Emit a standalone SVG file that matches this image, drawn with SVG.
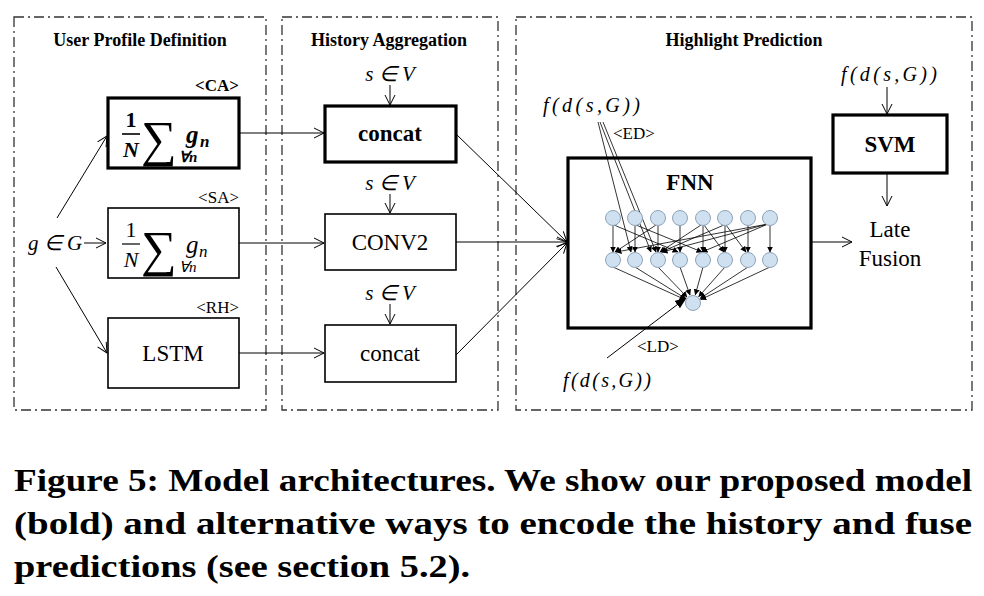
<svg xmlns="http://www.w3.org/2000/svg" width="984" height="596" viewBox="0 0 984 596">
<defs>
<marker id="open" markerWidth="12" markerHeight="12" refX="11" refY="6" orient="auto" markerUnits="userSpaceOnUse">
<path d="M1,1 L11,6 L1,11" fill="none" stroke="#000" stroke-width="1"/>
</marker>
<marker id="tri" markerWidth="6" markerHeight="6" refX="5.5" refY="3" orient="auto" markerUnits="userSpaceOnUse">
<path d="M0,0 L6,3 L0,6 Z" fill="#000"/>
</marker>
<marker id="tri2" markerWidth="12" markerHeight="10" refX="11" refY="5" orient="auto" markerUnits="userSpaceOnUse">
<path d="M0,0.5 L12,5 L0,9.5 Z" fill="#000"/>
</marker>
</defs>
<style>
.panel{fill:none;stroke:#333;stroke-width:1.3;stroke-dasharray:10 4 2 4}
.box{fill:#fff;stroke:#000;stroke-width:1.6}
.bold{fill:#fff;stroke:#000;stroke-width:3.2}
.cn{stroke:#000;stroke-width:1;fill:none}
.ca{marker-end:url(#open)}
.nn{stroke:#000;stroke-width:0.8;fill:none;marker-end:url(#tri)}
.node{fill:#cfe0f1;stroke:#8ea3b8;stroke-width:1}
</style>

<g id="panels">
<rect class="panel" x="14" y="17" width="252" height="393"/>
<rect class="panel" x="282" y="17" width="216" height="393"/>
<rect class="panel" x="516" y="17" width="456" height="393"/>
<g font-family="Liberation Serif, serif" font-weight="bold" font-size="18" text-anchor="middle">
<text x="140" y="46">User Profile Definition</text>
<text x="389" y="46">History Aggregation</text>
<text x="744" y="46">Highlight Prediction</text>
</g>
</g>

<g id="input">
<text font-family="Liberation Serif, serif" font-style="italic" font-size="21" x="28" y="250">g ∈ G</text>
</g>

<g id="CA" font-family="Liberation Serif, serif">
<rect class="bold" x="108" y="98" width="131" height="70"/>
<text x="239" y="91" font-size="17" font-weight="bold" text-anchor="end">&lt;CA&gt;</text>
<text x="131" y="127" font-weight="bold" font-size="22" text-anchor="middle">1</text>
<line x1="122" y1="134" x2="140" y2="134" stroke="#000" stroke-width="1.6"/>
<text x="131" y="157" font-weight="bold" font-style="italic" font-size="22" text-anchor="middle">N</text>
<text x="141" y="156" font-size="50">∑</text>
<text x="179" y="162" font-weight="bold" font-style="italic" font-size="15">∀n</text>
<text x="186" y="143" font-weight="bold" font-style="italic" font-size="25">g</text>
<text x="200" y="147" font-weight="bold" font-style="italic" font-size="17">n</text>
</g>

<g id="SA" font-family="Liberation Serif, serif">
<rect class="box" x="108" y="208" width="131" height="70"/>
<text x="239" y="203" font-size="17" text-anchor="end">&lt;SA&gt;</text>
<text x="131" y="237" font-size="22" text-anchor="middle">1</text>
<line x1="122" y1="244" x2="140" y2="244" stroke="#000" stroke-width="1.2"/>
<text x="131" y="267" font-style="italic" font-size="22" text-anchor="middle">N</text>
<text x="141" y="266" font-size="50">∑</text>
<text x="179" y="272" font-style="italic" font-size="15">∀n</text>
<text x="186" y="253" font-style="italic" font-size="25">g</text>
<text x="199" y="257" font-style="italic" font-size="17">n</text>
</g>

<g id="RH" font-family="Liberation Serif, serif">
<rect class="box" x="108" y="318" width="131" height="70"/>
<text x="239" y="313" font-size="17" text-anchor="end">&lt;RH&gt;</text>
<text x="173" y="361" font-size="23" text-anchor="middle">LSTM</text>
</g>

<g id="concat1" font-family="Liberation Serif, serif">
<rect class="bold" x="325" y="106" width="131" height="56"/>
<text x="390" y="141" font-size="23" font-weight="bold" text-anchor="middle">concat</text>
<text x="390" y="81" font-style="italic" font-size="21" text-anchor="middle">s ∈ V</text>
</g>

<g id="conv2" font-family="Liberation Serif, serif">
<rect class="box" x="325" y="214" width="131" height="56"/>
<text x="390" y="250" font-size="23" text-anchor="middle">CONV2</text>
<text x="390" y="190" font-style="italic" font-size="21" text-anchor="middle">s ∈ V</text>
</g>

<g id="concat2" font-family="Liberation Serif, serif">
<rect class="box" x="325" y="325" width="131" height="57"/>
<text x="390" y="361" font-size="23" text-anchor="middle">concat</text>
<text x="390" y="300" font-style="italic" font-size="21" text-anchor="middle">s ∈ V</text>
</g>

<g id="FNN" font-family="Liberation Serif, serif">
<rect class="bold" x="568" y="158" width="243" height="170"/>
<text x="690" y="190" font-size="23" font-weight="bold" text-anchor="middle">FNN</text>
</g>

<g id="SVM" font-family="Liberation Serif, serif">
<rect class="bold" x="833" y="115" width="114" height="58"/>
<text x="890" y="152" font-size="23" font-weight="bold" text-anchor="middle">SVM</text>
<text x="841" y="81" font-style="italic" font-size="20" textLength="96">f(d(s,G))</text>
</g>

<g id="LateFusion" font-family="Liberation Serif, serif" font-size="23" text-anchor="middle">
<text x="890" y="237">Late</text>
<text x="890" y="266">Fusion</text>
</g>

<g id="ED" font-family="Liberation Serif, serif">
<text x="543" y="112" font-style="italic" font-size="20" textLength="97">f(d(s,G))</text>
<text x="613" y="139" font-size="17">&lt;ED&gt;</text>
</g>

<g id="LD" font-family="Liberation Serif, serif">
<text x="637" y="352" font-size="17">&lt;LD&gt;</text>
<text x="563" y="387" font-style="italic" font-size="20" textLength="88">f(d(s,G))</text>
</g>

<g id="connectors">
<line class="cn ca" x1="57" y1="218" x2="107" y2="136"/>
<line class="cn ca" x1="84" y1="243" x2="106" y2="243"/>
<line class="cn ca" x1="56" y1="267" x2="107" y2="353"/>
<line class="cn ca" x1="239" y1="133" x2="324" y2="133"/>
<line class="cn ca" x1="239" y1="243" x2="324" y2="243"/>
<line class="cn ca" x1="239" y1="353" x2="324" y2="353"/>
<line class="cn ca" x1="390" y1="85" x2="390" y2="105"/>
<line class="cn ca" x1="390" y1="194" x2="390" y2="213"/>
<line class="cn ca" x1="390" y1="304" x2="390" y2="324"/>
<line class="cn ca" x1="456" y1="134" x2="567" y2="242"/>
<line class="cn ca" x1="456" y1="242" x2="567" y2="242"/>
<line class="cn ca" x1="456" y1="355" x2="567" y2="243"/>
<line class="cn ca" x1="811" y1="242" x2="852" y2="242"/>
<line class="cn ca" x1="887" y1="87" x2="887" y2="114"/>
<line class="cn ca" x1="887" y1="173" x2="887" y2="206"/>
</g>

<g id="network">
<g id="net-edges">
<line class="nn" x1="613" y1="226" x2="613" y2="252"/>
<line class="nn" x1="635" y1="226" x2="635" y2="252"/>
<line class="nn" x1="658" y1="226" x2="658" y2="252"/>
<line class="nn" x1="680" y1="226" x2="680" y2="252"/>
<line class="nn" x1="703" y1="226" x2="703" y2="252"/>
<line class="nn" x1="725" y1="226" x2="725" y2="252"/>
<line class="nn" x1="748" y1="226" x2="748" y2="252"/>
<line class="nn" x1="770" y1="226" x2="770" y2="252"/>
<line class="nn" x1="614" y1="225" x2="678" y2="252"/>
<line class="nn" x1="656" y1="225" x2="615" y2="252"/>
<line class="nn" x1="701" y1="225" x2="660" y2="252"/>
<line class="nn" x1="704" y1="225" x2="724" y2="252"/>
<line class="nn" x1="724" y1="225" x2="661" y2="252"/>
<line class="nn" x1="726" y1="225" x2="746" y2="252"/>
<line class="nn" x1="768" y1="224" x2="616" y2="252"/>
<line class="nn" x1="768" y1="224" x2="662" y2="252"/>
<line class="nn" x1="768" y1="224" x2="702" y2="252"/>
<line class="nn" x1="636" y1="225" x2="702" y2="252"/>
<line class="nn" x1="613" y1="267" x2="685" y2="299.6"/>
<line class="nn" x1="635" y1="267" x2="685.7" y2="298.6"/>
<line class="nn" x1="658" y1="267" x2="687" y2="297"/>
<line class="nn" x1="680" y1="267" x2="690" y2="295"/>
<line class="nn" x1="703" y1="267" x2="695.3" y2="294.8"/>
<line class="nn" x1="725" y1="267" x2="698.7" y2="296.7"/>
<line class="nn" x1="748" y1="267" x2="700.2" y2="298.4"/>
<line class="nn" x1="770" y1="267" x2="700.7" y2="299.5"/>
<line class="nn" x1="598" y1="122" x2="631" y2="252"/>
<line class="nn" x1="600" y1="122" x2="651" y2="252"/>
<line class="nn" x1="603" y1="122" x2="656" y2="252"/>
<line x1="607" y1="358" x2="686" y2="298" stroke="#000" stroke-width="1" marker-end="url(#tri2)"/>
</g>
<g id="net-nodes">
<circle class="node" cx="613" cy="218" r="7.5"/>
<circle class="node" cx="635" cy="218" r="7.5"/>
<circle class="node" cx="658" cy="218" r="7.5"/>
<circle class="node" cx="680" cy="218" r="7.5"/>
<circle class="node" cx="703" cy="218" r="7.5"/>
<circle class="node" cx="725" cy="218" r="7.5"/>
<circle class="node" cx="748" cy="218" r="7.5"/>
<circle class="node" cx="770" cy="218" r="7.5"/>
<circle class="node" cx="613" cy="260" r="7.5"/>
<circle class="node" cx="635" cy="260" r="7.5"/>
<circle class="node" cx="658" cy="260" r="7.5"/>
<circle class="node" cx="680" cy="260" r="7.5"/>
<circle class="node" cx="703" cy="260" r="7.5"/>
<circle class="node" cx="725" cy="260" r="7.5"/>
<circle class="node" cx="748" cy="260" r="7.5"/>
<circle class="node" cx="770" cy="260" r="7.5"/>
<circle class="node" cx="693" cy="303" r="7.5"/>
</g>
</g>

<g id="caption" font-family="Liberation Serif, serif" font-weight="bold" font-size="32">
<text x="14" y="491" textLength="958" lengthAdjust="spacingAndGlyphs">Figure 5: Model architectures. We show our proposed model</text>
<text x="14" y="534" textLength="958" lengthAdjust="spacingAndGlyphs">(bold) and alternative ways to encode the history and fuse</text>
<text x="14" y="577" textLength="456" lengthAdjust="spacingAndGlyphs">predictions (see section 5.2).</text>
</g>
</svg>
